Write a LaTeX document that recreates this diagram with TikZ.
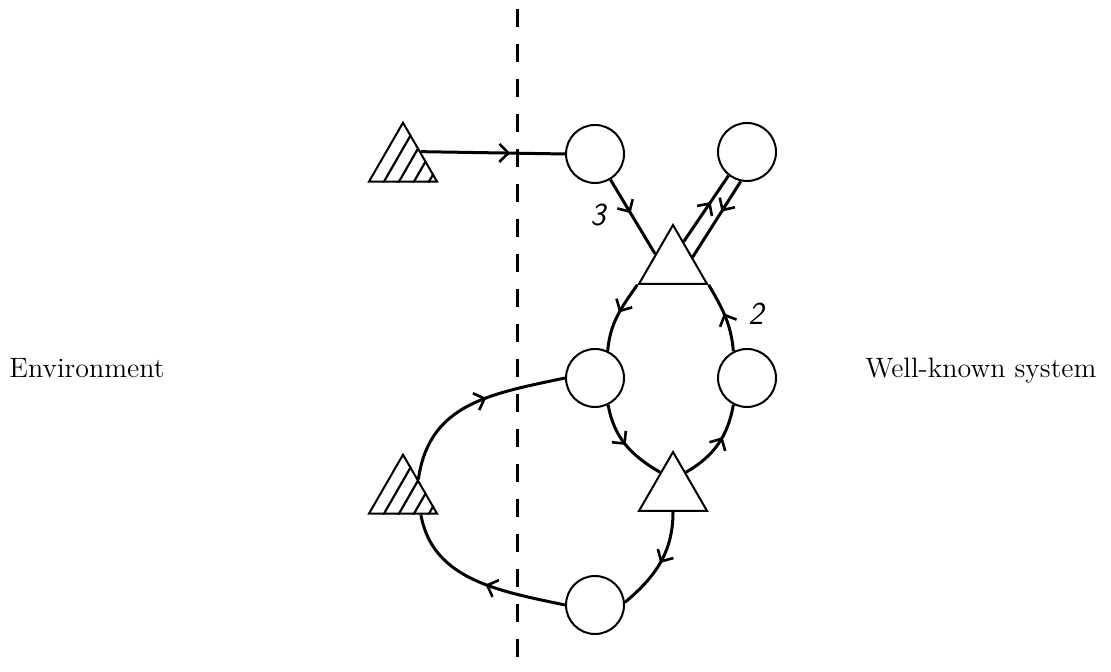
\documentclass[tikz,border=0pt]{standalone}
\usetikzlibrary{shapes.geometric,arrows.meta,decorations.markings,calc}
\begin{document}
\begin{tikzpicture}[x=0.5pt,y=0.5pt,
  circ/.style={circle,draw,line width=1pt,minimum size=29pt,inner sep=0pt},
  tri/.style={regular polygon,regular polygon sides=3,draw,line width=1pt,minimum size=39.3pt,inner sep=0pt},
  conn/.style={line width=1.5pt},
  midarrow/.style={postaction={decorate},decoration={markings,mark=at position #1 with {\arrow{Straight Barb[length=4.5pt,width=9pt,line width=1.3pt]}}}},
  hatch/.style={line width=1.1pt},
  lbl/.style={font=\fontsize{16}{16}\sffamily\slshape},
  sidetext/.style={font=\fontsize{14}{16}\selectfont,inner sep=0pt}
]
\useasboundingbox (0,0) rectangle (1111,672);

% dashed boundary
\coordinate (dtop) at (517,663);
\coordinate (dbot) at (517,0);
\draw[line width=1.5pt,dash pattern=on 9pt off 8.5pt] (dtop) -- (dbot);

% nodes
\node[tri] (h1) at (403,510) {};
\node[tri] (h2) at (403,178) {};
\node[circ] (c1) at (595,518) {};
\node[circ] (c2) at (747,520) {};
\node[tri] (t1) at (673,407.7) {};
\node[circ] (c3) at (595,294) {};
\node[circ] (c4) at (747,294) {};
\node[tri] (t2) at (673,180.7) {};
\node[circ] (c5) at (595,67) {};

% hatching
\foreach \tn in {h1,h2}{
  \begin{scope}
    \clip (\tn.corner 1) -- (\tn.corner 2) -- (\tn.corner 3) -- cycle;
    \foreach \d in {15,30,45,60}
      \draw[hatch] ($(\tn.corner 2)+(\d,-2)$) -- ++(40,69.5);
  \end{scope}
}

% side texts
\node[sidetext,anchor=base west] (env) at (9,294) {Environment};
\node[sidetext,anchor=base west] (wks) at (865,294) {Well-known system};

% labels
\node[lbl] (l3) at (598,457) {3};
\node[lbl] (l2) at (756,358) {2};

% connectors
\draw[conn,midarrow=0.62] (h1.side 3) -- (c1.west);
\draw[conn,midarrow=0.45] (c1) -- (t1.side 1);
\coordinate (ta) at ($(t1.corner 1)!0.3!(t1.corner 3)$);
\coordinate (tb) at ($(t1.corner 1)!0.55!(t1.corner 3)$);
\draw[conn,midarrow=0.6] (ta) -- (c2.232);
\draw[conn,midarrow=0.4] (c2.258) -- (tb);
\draw[conn,midarrow=0.45] (t1.corner 2) to[out=235,in=85] (c3.65);
\coordinate (t2l) at ($(t2.corner 1)!0.36!(t2.corner 2)$);
\coordinate (t2r) at ($(t2.corner 1)!0.36!(t2.corner 3)$);
\draw[conn,midarrow=0.5] (c3.296) to[out=-80,in=150] (t2l);
\draw[conn,midarrow=0.6] (t2r) to[out=30,in=-100] (c4.243);
\draw[conn,midarrow=0.55] (c4.117) to[out=95,in=-60] (t1.corner 3);
\draw[conn,midarrow=0.5] (t2.side 2) to[out=-90,in=40] (c5.5);
\coordinate (h2b) at ($(h2.corner 2)!0.75!(h2.corner 3)$);
\coordinate (h2r) at ($(h2.corner 1)!0.43!(h2.corner 3)$);
\draw[conn,midarrow=0.45] (c5.west) to[out=168,in=-80] (h2b);
\draw[conn,midarrow=0.58] (h2r) to[out=82,in=192,looseness=1.1] (c3.west);
\end{tikzpicture}
\end{document}
